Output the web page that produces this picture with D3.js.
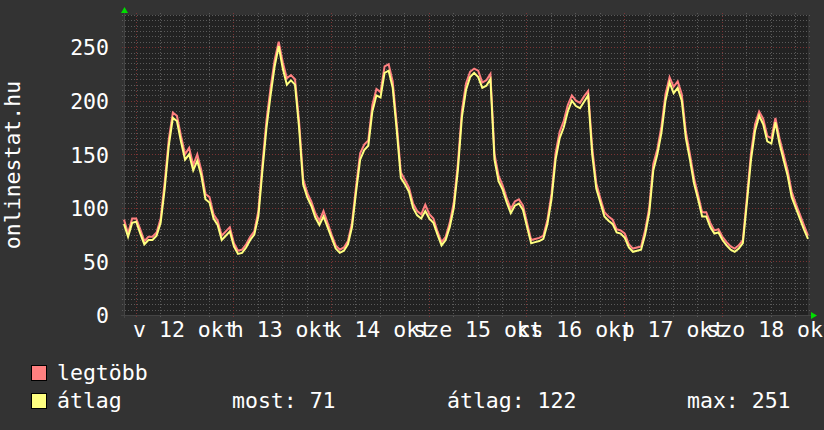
<!DOCTYPE html>
<html><head><meta charset="utf-8">
<script src="https://cdn.jsdelivr.net/npm/d3@7"></script>
<style>html,body{margin:0;padding:0;background:#333;}svg{display:block;}</style>
</head><body>
<svg id="c" width="824" height="430"></svg>
<script>
// ---- data ----
const startTime = new Date(2014, 9, 11, 21, 10); // first sample, hourly steps
const avgValues = [85,73,86,87,76,66,70,70,74,86,118,158,184,181,162,145,150,135,144,130,108,105,90,84,70,74,78,64,57,58,63,70,75,92,135,175,205,232,251,230,215,219,215,175,122,110,102,91,84,92,82,72,62,58,60,66,82,115,145,154,158,190,205,203,226,228,212,172,128,122,115,100,93,90,97,90,86,75,65,70,82,100,135,185,210,222,226,222,212,214,220,145,125,117,105,95,102,104,98,82,67,68,69,71,85,108,145,165,175,190,200,195,193,199,205,150,118,105,92,88,85,77,76,72,63,59,60,61,75,95,135,150,170,200,217,207,212,200,165,145,123,108,92,92,82,76,77,70,65,61,59,62,67,105,145,172,186,178,162,160,180,160,145,130,110,100,90,80,71];
const maxValues = [89,76,90,90,80,69,73,73,77,90,124,164,189,186,167,150,156,140,150,135,113,110,94,88,74,78,82,67,60,61,66,73,78,97,141,182,212,238,255,236,221,224,220,181,127,114,106,95,88,97,86,75,65,61,63,69,86,120,151,159,163,196,211,208,232,234,218,178,133,126,119,104,97,94,103,94,90,78,68,73,86,105,141,191,216,227,230,228,217,219,225,150,130,121,109,99,106,108,102,86,70,71,72,74,89,113,151,171,181,196,205,200,198,204,209,156,123,109,96,92,89,80,79,76,66,62,63,64,79,100,141,155,176,206,222,213,218,206,171,150,128,112,96,96,86,79,80,73,68,64,62,65,70,110,151,178,190,183,167,165,184,165,150,135,115,104,94,84,74];
const yTicks = [0,50,100,150,200,250];
const dayLabels = ["v 12 okt","h 13 okt","k 14 okt","sze 15 okt","cs 16 okt","p 17 okt","szo 18 okt"];
const seriesNames = ["legtöbb","átlag"];
const seriesColors = ["#ff8080","#ffff80"];
const statLabels = ["most: 71","átlag: 122","max: 251"];
const yTitle = "onlinestat.hu";

// ---- layout ----
const svg = d3.select("#c");
const L = 124, R = 808, T = 15, B = 315;
const FONT = "'DejaVu Sans Mono', monospace";
const FS = 21.5;
const endTime = d3.timeHour.offset(startTime, avgValues.length - 1);
const x = d3.scaleTime().domain([startTime, endTime]).range([L, R]);
const y = d3.scaleLinear().domain([0, 280]).range([B, T]);

svg.append("rect").attr("width", 824).attr("height", 430).attr("fill", "#333333");
svg.append("rect").attr("x", L).attr("y", T).attr("width", R - L).attr("height", B - T).attr("fill", "#222222");

const grid = svg.append("g");
const MINOR = "#5a5a5a", MAJOR = "#7a3434";
// minor horizontal grid every 5
d3.range(5, 281, 5).filter(v => v % 50 !== 0).forEach(v => {
  grid.append("line").attr("x1", L - 2).attr("x2", R + 2)
    .attr("y1", Math.round(y(v)) + 0.5).attr("y2", Math.round(y(v)) + 0.5)
    .attr("stroke", MINOR).attr("stroke-dasharray", "1,2");
});
// minor vertical grid every 6 hours
d3.timeHour.every(6).range(startTime, endTime).filter(d => d.getHours() !== 0).forEach(d => {
  grid.append("line").attr("y1", T - 2).attr("y2", B + 2)
    .attr("x1", Math.round(x(d)) + 0.5).attr("x2", Math.round(x(d)) + 0.5)
    .attr("stroke", MINOR).attr("stroke-dasharray", "1,2");
});
// major horizontal grid every 50
yTicks.filter(v => v > 0).forEach(v => {
  grid.append("line").attr("x1", L - 2).attr("x2", R + 2)
    .attr("y1", Math.round(y(v)) + 0.5).attr("y2", Math.round(y(v)) + 0.5)
    .attr("stroke", MAJOR).attr("stroke-dasharray", "1,2");
});
// major vertical grid at midnights
const days = d3.timeDay.range(d3.timeDay.ceil(startTime), endTime);
days.forEach(d => {
  grid.append("line").attr("y1", T - 2).attr("y2", B + 2)
    .attr("x1", Math.round(x(d)) + 0.5).attr("x2", Math.round(x(d)) + 0.5)
    .attr("stroke", MAJOR).attr("stroke-dasharray", "1,2");
});

// axes lines
svg.append("line").attr("x1", L - 3).attr("x2", R + 3).attr("y1", B + 0.5).attr("y2", B + 0.5).attr("stroke", "#444");
svg.append("line").attr("x1", L + 0.5).attr("x2", L + 0.5).attr("y1", T - 3).attr("y2", B + 3).attr("stroke", "#444");
// arrows
svg.append("path").attr("d", `M${L - 3},${T - 2} L${L + 4},${T - 2} L${L + 0.5},${T - 8} Z`).attr("fill", "#00dd00");
svg.append("path").attr("d", `M${R + 3},${B - 3} L${R + 3},${B + 4} L${R + 9},${B + 0.5} Z`).attr("fill", "#00dd00");

// series
const line = d3.line().x((d, i) => x(d3.timeHour.offset(startTime, i))).y(d => y(d));
[maxValues, avgValues].forEach((vals, k) => {
  svg.append("path").datum(vals).attr("d", line)
    .attr("fill", "none").attr("stroke", seriesColors[k]).attr("stroke-width", 2)
    .attr("stroke-linejoin", "miter");
});

// y tick labels
const yAxis = d3.axisLeft(y).tickValues(yTicks).tickSize(0).tickPadding(0);
const yg = svg.append("g").attr("transform", `translate(${L - 15},0)`).call(yAxis);
yg.select(".domain").remove();
yg.selectAll("text").attr("fill", "#ffffff").attr("font-family", FONT).attr("font-size", FS).attr("dy", "0.36em");

// x labels at noon
const noons = days.map(d => d3.timeHour.offset(d, 12));
const xAxis = d3.axisBottom(x).tickValues(noons).tickFormat((d, i) => dayLabels[i]).tickSize(0).tickPadding(0);
const xg = svg.append("g").attr("transform", `translate(0,${B + 7})`).call(xAxis);
xg.select(".domain").remove();
xg.selectAll("text").attr("fill", "#ffffff").attr("font-family", FONT).attr("font-size", FS).attr("dy", "0.71em").attr("y", 0);

// y title
svg.append("text").attr("transform", `translate(20,${(T + B) / 2}) rotate(-90)`)
  .attr("text-anchor", "middle").attr("fill", "#ffffff").attr("font-family", FONT).attr("font-size", FS)
  .text(yTitle);

// legend
seriesNames.forEach((name, k) => {
  const yy = 365 + k * 28;
  svg.append("rect").attr("x", 31.5).attr("y", yy + 0.5).attr("width", 15).attr("height", 15)
    .attr("fill", seriesColors[k]).attr("stroke", "#000");
  svg.append("text").attr("x", 57).attr("y", yy + 15).attr("fill", "#ffffff")
    .attr("font-family", FONT).attr("font-size", FS).text(name);
});
const statX = [232, 447, 687];
statLabels.forEach((s, i) => {
  svg.append("text").attr("x", statX[i]).attr("y", 365 + 28 + 15).attr("fill", "#ffffff")
    .attr("font-family", FONT).attr("font-size", FS).text(s);
});
</script>
</body></html>
